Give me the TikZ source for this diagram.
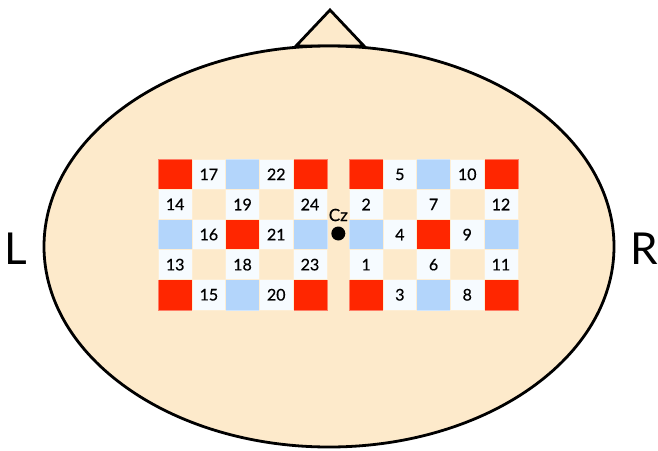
\documentclass[tikz,border=0pt]{standalone}
\usepackage{fontspec}
\usetikzlibrary{shapes.geometric}
\setmainfont{Lato}
\newfontfamily\labelfont[FakeBold=0.6]{Lato}
\definecolor{headfill}{HTML}{FDEACB}
\definecolor{cellred}{HTML}{FF2600}
\definecolor{cellblue}{HTML}{B3D5FB}
\definecolor{cellwhite}{HTML}{F6FBFF}
\tikzset{
  cellbase/.style={rectangle, inner sep=0pt, minimum width=33.7pt, minimum height=30.1pt, line width=0.6pt},
  redcell/.style={cellbase, fill=cellred, draw=cellred!60!white},
  bluecell/.style={cellbase, fill=cellblue, draw=cellblue!60!white},
  whitecell/.style={cellbase, fill=cellwhite, draw=headfill!80!white, font=\labelfont\fontsize{16}{16}\selectfont},
  outline/.style={draw=black, line width=2.8pt, fill=headfill},
  side/.style={font=\fontsize{44}{44}\selectfont, inner sep=0pt}
}
\begin{document}
\begin{tikzpicture}[x=1pt,y=-1pt]
\useasboundingbox (0,0) rectangle (658,450);
% nose
\draw[outline, line join=miter] (296,46) -- (330,10) -- (364,46) -- cycle;
% head
\node[outline, ellipse, minimum width=570pt, minimum height=401pt, inner sep=0pt] (head) at (329,246.5) {};
% grids
\foreach \g/\xo in {A/158.3, B/349.3} {
  \foreach \r/\c/\s in {0/0/redcell,0/2/bluecell,0/4/redcell,2/0/bluecell,2/2/redcell,2/4/bluecell,4/0/redcell,4/2/bluecell,4/4/redcell} {
    \node[\s] (\g-\r-\c) at ({\xo+(\c+0.5)*33.7},{159.3+(\r+0.5)*30.1}) {};
  }
}
\foreach \r/\c/\t in {0/1/17,0/3/22,1/0/14,1/2/19,1/4/24,2/1/16,2/3/21,3/0/13,3/2/18,3/4/23,4/1/15,4/3/20} {
  \node[whitecell] (A-\r-\c) at ({158.3+(\c+0.5)*33.7},{159.3+(\r+0.5)*30.1}) {\t};
}
\foreach \r/\c/\t in {0/1/5,0/3/10,1/0/2,1/2/7,1/4/12,2/1/4,2/3/9,3/0/1,3/2/6,3/4/11,4/1/3,4/3/8} {
  \node[whitecell] (B-\r-\c) at ({349.3+(\c+0.5)*33.7},{159.3+(\r+0.5)*30.1}) {\t};
}
% Cz
\node[circle, fill=black, inner sep=0pt, minimum size=14pt] (cz) at (338.3,233.5) {};
\node[font=\labelfont\fontsize{17}{17}\selectfont, inner sep=0pt] (czlabel) at (338.3,215) {Cz};
% sides
\node[side] (L) at (16,249) {L};
\node[side] (R) at (644,249) {R};
\end{tikzpicture}
\end{document}
